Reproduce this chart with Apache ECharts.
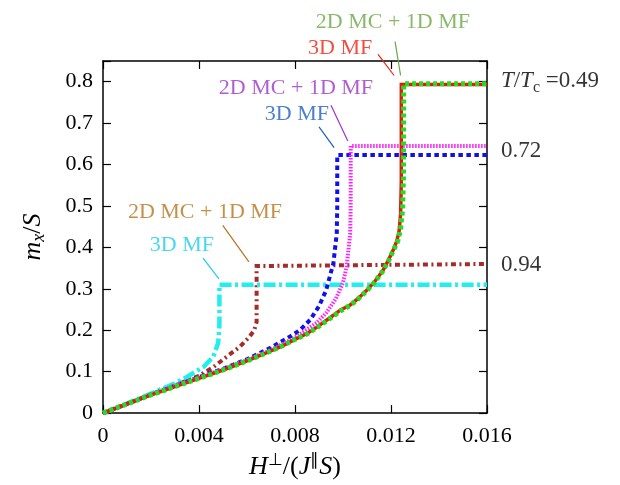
<!DOCTYPE html>
<html><head><meta charset="utf-8">
<script src="https://cdn.jsdelivr.net/npm/echarts@6/dist/echarts.min.js"></script>
<style>html,body{margin:0;padding:0;background:#fff}#c{width:620px;height:485px}</style>
</head><body><div id="c"></div>
<script>
// ---- data ----
const xTicks = [0, 0.004, 0.008, 0.012, 0.016];
const yTicks = [0, 0.1, 0.2, 0.3, 0.4, 0.5, 0.6, 0.7, 0.8];

// T/Tc = 0.94
const brown2D_094 = [[0,0],[0.001,0.022],[0.002,0.045],[0.003,0.067],[0.004,0.09],[0.0046,0.111],[0.00515,0.136],[0.0057,0.16],[0.0061,0.184],[0.0063,0.2],[0.0064,0.22],[0.0064,0.26],[0.0064,0.355],[0.016,0.36]];
const cyan3D_094 = [[0,0],[0.001,0.023],[0.002,0.047],[0.003,0.072],[0.0034,0.084],[0.0038,0.098],[0.0042,0.112],[0.0046,0.137],[0.0048,0.17],[0.00485,0.21],[0.00485,0.31],[0.016,0.31]];
// T/Tc = 0.72
const blue3D_072 = [[0,0],[0.001,0.022],[0.002,0.045],[0.003,0.066],[0.004,0.087],[0.005,0.107],[0.006,0.13],[0.007,0.158],[0.0078,0.185],[0.0082,0.2],[0.00863,0.225],[0.009,0.258],[0.0093,0.297],[0.0096,0.362],[0.00974,0.434],[0.00976,0.5],[0.00976,0.623],[0.016,0.623]];
const magenta2D_072 = [[0,0],[0.001,0.022],[0.002,0.045],[0.003,0.066],[0.004,0.086],[0.005,0.106],[0.006,0.128],[0.007,0.153],[0.0078,0.176],[0.0082,0.19],[0.0089,0.218],[0.0093,0.242],[0.0097,0.276],[0.01,0.315],[0.01015,0.353],[0.0103,0.434],[0.01032,0.5],[0.01032,0.645],[0.016,0.645]];
// T/Tc = 0.49
const red3D_049 = [[0,0],[0.0005,0.011],[0.001,0.022],[0.0015,0.033],[0.002,0.044],[0.003,0.064],[0.004,0.084],[0.005,0.104],[0.006,0.126],[0.007,0.15],[0.0075,0.163],[0.008,0.178],[0.0085,0.192],[0.0089,0.207],[0.0095,0.232],[0.0099,0.249],[0.0103,0.261],[0.0106,0.275],[0.011,0.297],[0.0113,0.316],[0.01167,0.345],[0.0119,0.37],[0.0121,0.395],[0.01224,0.415],[0.01234,0.44],[0.0124,0.48],[0.01243,0.56],[0.01243,0.793],[0.016,0.793]];
const green2D_049 = [[0,0],[0.0005,0.011],[0.001,0.022],[0.0015,0.033],[0.002,0.044],[0.003,0.064],[0.004,0.084],[0.005,0.104],[0.006,0.126],[0.007,0.15],[0.0075,0.163],[0.008,0.178],[0.0085,0.191],[0.0089,0.206],[0.0095,0.23],[0.0099,0.247],[0.0103,0.26],[0.0106,0.274],[0.011,0.296],[0.0113,0.315],[0.01167,0.344],[0.0119,0.368],[0.0121,0.393],[0.01228,0.415],[0.0124,0.445],[0.01248,0.49],[0.01252,0.57],[0.01253,0.795],[0.016,0.795]];

// annotation labels [x, y] in data units
const annoLabels = ['2D MC + 1D MF', '3D MF', '2D MC + 1D MF', '3D MF', '2D MC + 1D MF', '3D MF'];
const annoColors = ['#6aa843', '#ee2211', '#9b34c8', '#1c5fbf', '#b5741c', '#19cdf0'];
const annoPos = [[0.01208,0.943],[0.00988,0.882],[0.00804,0.784],[0.00808,0.722],[0.00425,0.484],[0.00329,0.405]];
const leaders = [
  [[0.01217,0.897],[0.0124,0.815]],
  [[0.01146,0.866],[0.01213,0.815]],
  [[0.0095,0.743],[0.0102,0.657]],
  [[0.0090,0.691],[0.00963,0.641]],
  [[0.00499,0.453],[0.00608,0.365]],
  [[0.00417,0.374],[0.00483,0.324]]
];
const tempLabels = ['{i|T}{n|/}{i|T}{sub|c}{n| =0.49}', '{n|0.72}', '{n|0.94}'];
const tempPos = [[0.01658,0.801],[0.01658,0.633],[0.01658,0.357]];

// ---- chart ----
const SERIF = '"Liberation Serif","Times New Roman",serif';
const rich = {
  i: {fontFamily: SERIF, fontStyle: 'italic', fontSize: 23, color: '#000', lineHeight: 28},
  n: {fontFamily: SERIF, fontSize: 23, color: '#000', lineHeight: 28},
  sub: {fontFamily: SERIF, fontSize: 16, color: '#000', lineHeight: 16, verticalAlign: 'bottom'},
  sup: {fontFamily: SERIF, fontSize: 15, color: '#000', lineHeight: 15, verticalAlign: 'top'}
};
const nameRich = {
  i: {fontFamily: SERIF, fontStyle: 'italic', fontSize: 26, color: '#000', lineHeight: 30},
  n: {fontFamily: SERIF, fontSize: 26, color: '#000', lineHeight: 30},
  sub: {fontFamily: SERIF, fontSize: 18, fontStyle: 'italic', color: '#000', lineHeight: 18, verticalAlign: 'bottom'},
  sup: {fontFamily: SERIF, fontSize: 17, color: '#000', lineHeight: 17, verticalAlign: 'top'}
};
const axisLabel = {fontFamily: SERIF, fontSize: 22, color: '#000'};
const chart = echarts.init(document.getElementById('c'));

function curve(data, color, width, dash, z) {
  return {type: 'line', data: data, showSymbol: false, symbol: 'none', z: z,
    lineStyle: {color: color, width: width, type: dash, cap: 'butt', join: 'miter'}, silent: true};
}
const series = [
  curve(brown2D_094, '#a52a2a', 4, [5, 3.5, 2, 3.5], 2),
  curve(cyan3D_094, '#22eeee', 4.5, [12, 3.5, 3, 3.5], 3),
  curve(blue3D_072, '#1010ee', 4, [4.5, 3.5], 4),
  curve(magenta2D_072, '#ff22ff', 4, [1.5, 1.5], 5),
  curve(red3D_049, '#ee1111', 3.5, 'solid', 6),
  curve(green2D_049, '#22dd22', 5, [4, 3], 7)
];
leaders.forEach((seg, k) => {
  series.push({type: 'line', data: seg, showSymbol: false, symbol: 'none', clip: false, silent: true, z: 8,
    lineStyle: {color: annoColors[k], width: 1.2}});
});
series.push({
  type: 'scatter', symbolSize: 0, clip: false, silent: true, z: 9,
  data: annoPos.map((p, k) => ({value: p, label: {show: true, position: 'inside', formatter: annoLabels[k],
    color: annoColors[k], fontFamily: SERIF, fontSize: 22}}))
});
series.push({
  type: 'scatter', symbolSize: 0, clip: false, silent: true, z: 9,
  data: tempPos.map((p, k) => ({value: p, label: {show: true, position: 'right', distance: 0, align: 'left',
    formatter: tempLabels[k], rich: rich}}))
});

chart.setOption({
  animation: false,
  backgroundColor: '#fff',
  grid: {left: 103, right: 133, top: 61, bottom: 71, containLabel: false},
  xAxis: [{
    type: 'value', min: xTicks[0], max: xTicks[xTicks.length - 1], interval: xTicks[1] - xTicks[0],
    axisLine: {show: true, onZero: false, lineStyle: {color: '#000', width: 1.5}},
    axisTick: {show: true, inside: true, length: 8, lineStyle: {color: '#000', width: 1.2}},
    splitLine: {show: false},
    axisLabel: Object.assign({margin: 12, formatter: v => v === 0 ? '0' : v.toFixed(3)}, axisLabel),
    name: '{i|H}{sup|⊥}{n|/(}{i|J}{sup|∥}{i|S}{n|)}', nameLocation: 'middle', nameGap: 36,
    nameTextStyle: {rich: nameRich}
  }, {
    type: 'value', position: 'top', min: xTicks[0], max: xTicks[xTicks.length - 1], interval: xTicks[1] - xTicks[0],
    axisLine: {show: true, onZero: false, lineStyle: {color: '#000', width: 1.5}},
    axisTick: {show: true, inside: true, length: 8, lineStyle: {color: '#000', width: 1.2}},
    splitLine: {show: false}, axisLabel: {show: false}
  }],
  yAxis: [{
    type: 'value', min: 0, max: 0.85, interval: yTicks[1] - yTicks[0],
    axisLine: {show: true, onZero: false, lineStyle: {color: '#000', width: 1.5}},
    axisTick: {show: true, inside: true, length: 8, lineStyle: {color: '#000', width: 1.2}},
    splitLine: {show: false},
    axisLabel: Object.assign({margin: 10, formatter: v => v > yTicks[yTicks.length - 1] + 1e-9 ? '' : (v === 0 ? '0' : v.toFixed(1))}, axisLabel),
    name: '{i|m}{sub|x}{n|/}{i|S}', nameLocation: 'middle', nameGap: 55, nameRotate: 90,
    nameTextStyle: {rich: nameRich}
  }, {
    type: 'value', position: 'right', min: 0, max: 0.85, interval: yTicks[1] - yTicks[0],
    axisLine: {show: true, onZero: false, lineStyle: {color: '#000', width: 1.5}},
    axisTick: {show: true, inside: true, length: 8, lineStyle: {color: '#000', width: 1.2}},
    splitLine: {show: false}, axisLabel: {show: false}
  }],
  series: series
});
</script></body></html>
